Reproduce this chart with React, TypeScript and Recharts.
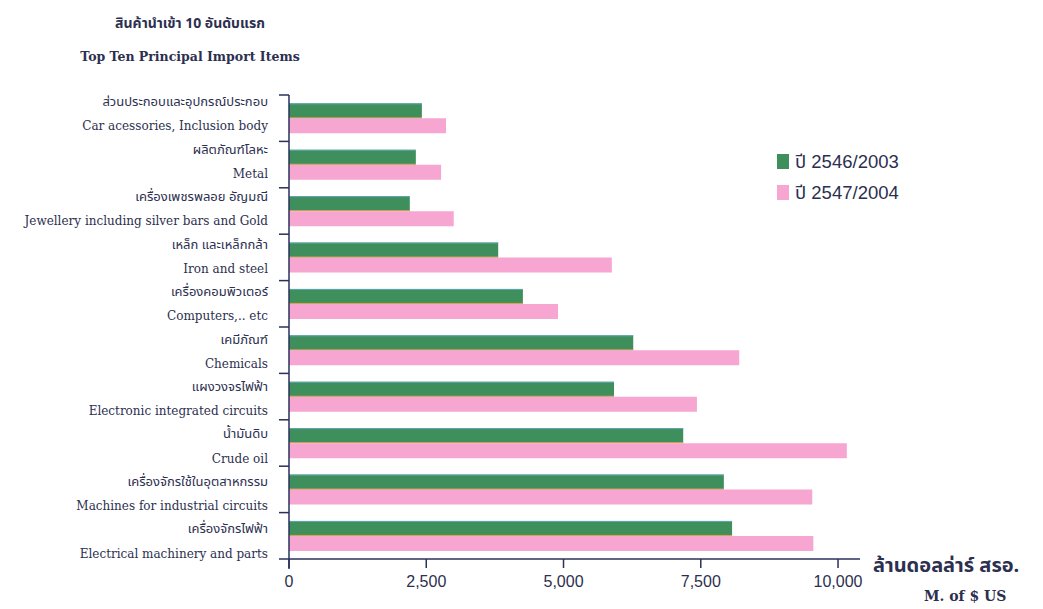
import React from 'react';
import { BarChart, Bar, XAxis, YAxis } from 'recharts';

// Top ten principal import items, million US$
const categoriesTh = [
  'ส่วนประกอบและอุปกรณ์ประกอบ',
  'ผลิตภัณฑ์โลหะ',
  'เครื่องเพชรพลอย อัญมณี',
  'เหล็ก และเหล็กกล้า',
  'เครื่องคอมพิวเตอร์',
  'เคมีภัณฑ์',
  'แผงวงจรไฟฟ้า',
  'น้ำมันดิบ',
  'เครื่องจักรใช้ในอุตสาหกรรม',
  'เครื่องจักรไฟฟ้า',
];
const categoriesEn = [
  'Car acessories, Inclusion body',
  'Metal',
  'Jewellery including silver bars and Gold',
  'Iron and steel',
  'Computers,.. etc',
  'Chemicals',
  'Electronic integrated circuits',
  'Crude oil',
  'Machines for industrial circuits',
  'Electrical machinery and parts',
];
const values2003 = [2420, 2310, 2200, 3810, 4260, 6270, 5920, 7180, 7920, 8070];
const values2004 = [2860, 2770, 3000, 5880, 4900, 8200, 7430, 10160, 9530, 9550];
const xTicks = [0, 2500, 5000, 7500, 10000];
const seriesNames = ['ปี 2546/2003', 'ปี 2547/2004'];

const data = categoriesEn.map((en, i) => ({
  key: en,
  th: categoriesTh[i],
  en,
  y2003: values2003[i],
  y2004: values2004[i],
}));

const GREEN = '#3f8f5c';
const PINK = '#f6a6d0';
const INK = '#2c2f4f';
const AXIS = '#2a2f5c';

const PLOT_TOP = 95;
const PLOT_BOTTOM = 559;
const AXIS_X = 289;
const BAND = (PLOT_BOTTOM - PLOT_TOP) / categoriesEn.length;

const thaiFont = "'Noto Sans Thai', 'Loma', 'Garuda', 'Noto Sans', sans-serif";
const serifFont = "'DejaVu Serif', 'Liberation Serif', serif";

const CategoryTick = (props: any) => {
  const { y, payload, index } = props;
  const row = data[index] || data.find((d) => d.key === payload.value);
  const drift = (index - 4.5) * 1.07;
  const top = y - BAND / 2;
  const last = index === categoriesEn.length - 1;
  return (
    <g>
      <line x1={AXIS_X - 10} x2={AXIS_X} y1={top} y2={top} stroke={AXIS} strokeWidth={1.5} />
      {last && (
        <g>
          <line x1={AXIS_X - 10} x2={AXIS_X} y1={top + BAND} y2={top + BAND} stroke={AXIS} strokeWidth={1.5} />
          <line x1={AXIS_X} x2={AXIS_X} y1={top + BAND} y2={top + BAND + 10} stroke={AXIS} strokeWidth={1.5} />
        </g>
      )}
      <text x={AXIS_X - 21} y={y - 10.8 + drift} textAnchor="end" dominantBaseline="middle"
        fontFamily={thaiFont} fontSize={13} fill={INK}>
        {row.th}
      </text>
      <text x={AXIS_X - 21} y={y + 13.6 + drift} textAnchor="end" dominantBaseline="middle"
        fontFamily={serifFont} fontSize={12} fill={INK}>
        {row.en}
      </text>
    </g>
  );
};

const GreenBar = (props: any) => {
  const { x, y, width, height } = props;
  if (!width || width <= 0) return null;
  return (
    <g>
      <rect x={x} y={y} width={width} height={height} fill={GREEN} />
      <line x1={x} x2={x + width} y1={y + 0.5} y2={y + 0.5} stroke="#5fa6b4" strokeWidth={1} />
      <line x1={x} x2={x + width} y1={y + height - 0.5} y2={y + height - 0.5} stroke="#e3a24a" strokeWidth={1} />
    </g>
  );
};

export default function App() {
  return (
    <div style={{ position: 'relative', width: 1043, height: 609, background: '#ffffff', overflow: 'hidden' }}>
      <style>{'body{margin:0}'}</style>
      <div style={{ position: 'absolute', left: 0, top: 13, width: 380, textAlign: 'center', fontFamily: thaiFont, fontWeight: 700, fontSize: 14, color: INK }}>
        สินค้านำเข้า 10 อันดับแรก
      </div>
      <div style={{ position: 'absolute', left: 0, top: 49, width: 380, textAlign: 'center', fontFamily: serifFont, fontWeight: 700, fontSize: 12.5, color: INK }}>
        Top Ten Principal Import Items
      </div>
      <div style={{ position: 'absolute', left: 777, top: 146, fontFamily: "'Liberation Sans', Arial, " + thaiFont, fontSize: 18.5, color: INK }}>
        {seriesNames.map((name, i) => (
          <div key={name} style={{ display: 'flex', alignItems: 'center', height: 31 }}>
            <span style={{ display: 'inline-block', width: 12, height: 15, background: i === 0 ? GREEN : PINK, marginRight: 6 }} />
            <span>{name}</span>
          </div>
        ))}
      </div>
      <div style={{ position: 'absolute', left: 873, top: 551, fontFamily: thaiFont, fontWeight: 700, fontSize: 20, color: INK }}>
        ล้านดอลล่าร์ สรอ.
      </div>
      <div style={{ position: 'absolute', left: 924, top: 588, fontFamily: serifFont, fontWeight: 700, fontSize: 14, color: INK }}>
        M. of $ US
      </div>
      <BarChart
        width={1043}
        height={609}
        data={data}
        layout="vertical"
        barCategoryGap="18%"
        barGap={0}
        margin={{ top: PLOT_TOP, right: 1043 - 860, bottom: 609 - PLOT_BOTTOM - 40, left: 0 }}
      >
        <XAxis
          type="number"
          domain={[0, 10400]}
          ticks={xTicks}
          tickFormatter={(v: number) => v.toLocaleString('en-US')}
          axisLine={{ stroke: AXIS, strokeWidth: 1.5 }}
          tickLine={{ stroke: AXIS, strokeWidth: 1.5 }}
          tickSize={9}
          tickMargin={8}
          height={40}
          tick={{ fill: INK, fontSize: 16, fontFamily: "'Liberation Sans Narrow', 'Liberation Sans', sans-serif" }}
        />
        <YAxis
          type="category"
          dataKey="key"
          width={AXIS_X}
          axisLine={{ stroke: AXIS, strokeWidth: 1.5 }}
          tickLine={false}
          interval={0}
          tick={<CategoryTick />}
        />
        <Bar dataKey="y2003" name={seriesNames[0]} fill={GREEN} shape={<GreenBar />} isAnimationActive={false} />
        <Bar dataKey="y2004" name={seriesNames[1]} fill={PINK} isAnimationActive={false} />
      </BarChart>
    </div>
  );
}
